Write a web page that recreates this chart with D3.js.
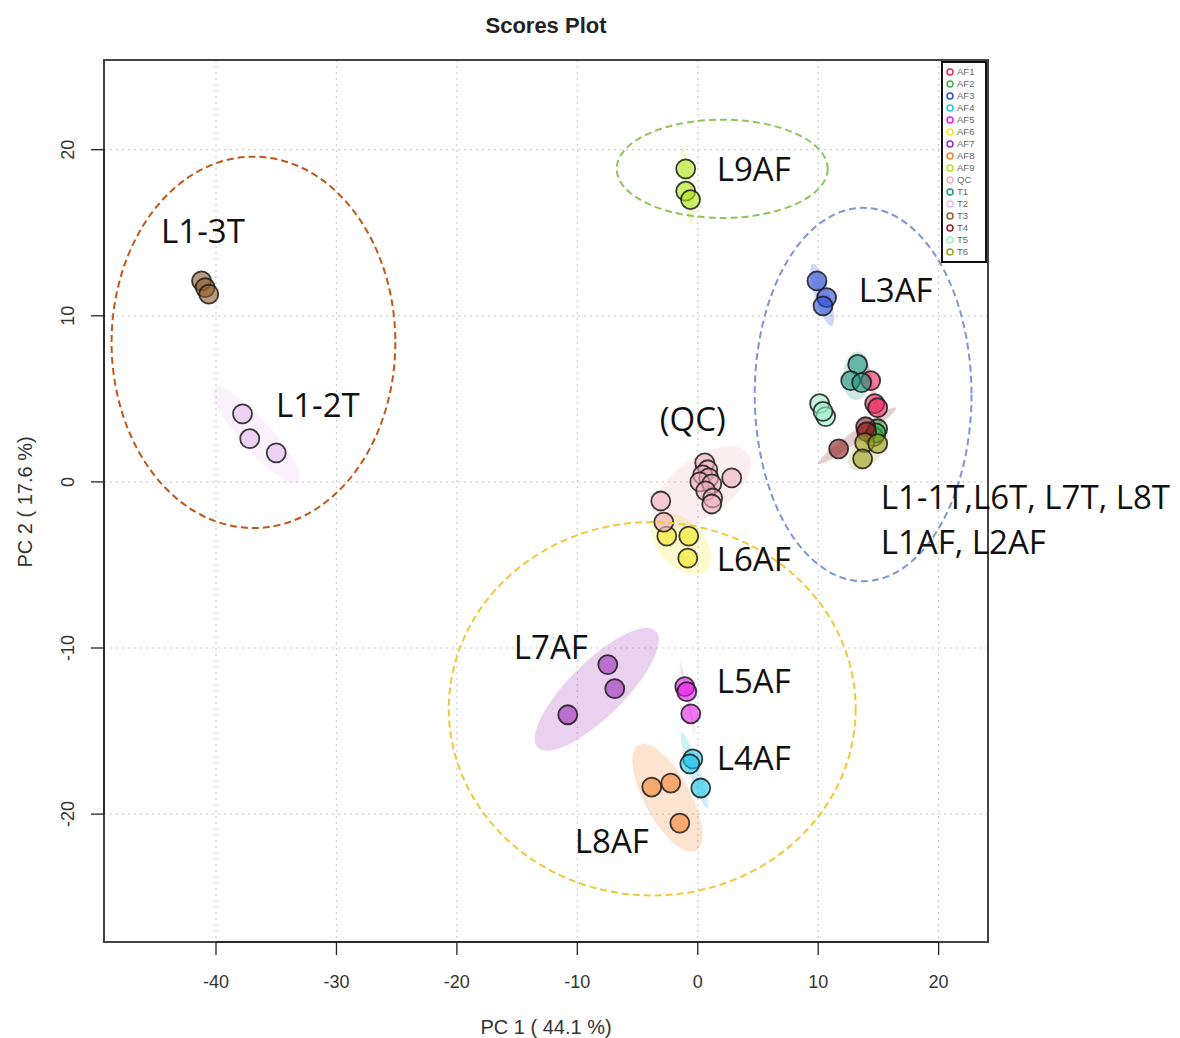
<!DOCTYPE html>
<html>
<head>
<meta charset="utf-8">
<script src="https://cdn.jsdelivr.net/npm/d3@7/dist/d3.min.js"></script>
<style>
body { margin: 0; background: #fff; }
</style>
</head>
<body>
<div id="chart"></div>
<script>
// groups in legend order
const groups = ["AF1", "AF2", "AF3", "AF4", "AF5", "AF6", "AF7", "AF8", "AF9",
    "QC", "T1", "T2", "T3", "T4", "T5", "T6"];
const palette = ["#e8245a", "#3cb44b", "#2d4fd6", "#22c4e6", "#e21ee6", "#f5e61e",
    "#9b2db4", "#f5822e", "#b4e61e", "#f0b0bc", "#1e9682", "#e6bef0",
    "#8c5a28", "#8c1e1e", "#9cf0c8", "#a0a01e"];

// PC1 / PC2 scores per group
const scoresAF1 = [[14.36, 6.10], [14.69, 4.71], [14.94, 4.47]];
const scoresAF2 = [[14.94, 3.20], [14.61, 2.72], [14.80, 2.95]];
const scoresAF3 = [[9.9, 12.1], [10.7, 11.1], [10.4, 10.6]];
const scoresAF4 = [[-0.41, -16.68], [-0.66, -16.98], [0.25, -18.43]];
const scoresAF5 = [[-1.08, -12.33], [-0.91, -12.63], [-0.58, -13.96]];
const scoresAF6 = [[-2.57, -3.26], [-0.75, -3.26], [-0.83, -4.59]];
const scoresAF7 = [[-7.47, -11.0], [-6.89, -12.45], [-10.79, -14.02]];
const scoresAF8 = [[-3.82, -18.37], [-2.24, -18.13], [-1.49, -20.54]];
const scoresAF9 = [[-1.0, 18.85], [-1.0, 17.5], [-0.6, 17.0]];
const scoresQC = [[0.58, 1.15], [0.83, 0.73], [0.41, 0.42], [0.91, 0.24], [0.17, 0.0],
    [1.16, -0.12], [2.82, 0.24], [0.66, -0.54], [1.24, -0.97], [1.16, -1.33],
    [-3.07, -1.15], [-2.82, -2.42]];
const scoresT1 = [[13.28, 7.07], [12.70, 6.10], [13.61, 5.98]];
const scoresT2 = [[-37.8, 4.1], [-37.2, 2.6], [-35.0, 1.75]];
const scoresT3 = [[-41.2, 12.1], [-40.9, 11.7], [-40.6, 11.3]];
const scoresT4 = [[13.94, 3.32], [14.02, 3.02], [11.70, 1.99]];
const scoresT5 = [[10.12, 4.71], [10.62, 3.93], [10.40, 4.25]];
const scoresT6 = [[13.86, 2.36], [14.94, 2.30], [13.69, 1.39]];

const allScores = [scoresAF1, scoresAF2, scoresAF3, scoresAF4, scoresAF5, scoresAF6,
    scoresAF7, scoresAF8, scoresAF9, scoresQC, scoresT1, scoresT2, scoresT3,
    scoresT4, scoresT5, scoresT6];

const xTicks = [-40, -30, -20, -10, 0, 10, 20];
const yTicks = [-20, -10, 0, 10, 20];

// hand-drawn annotation rings: centre x, centre y, radius x, radius y (data units)
const rings = [[-36.89, 8.40, 11.78, 11.18], [2.03, 18.85, 8.76, 2.96],
    [13.73, 5.26, 9.0, 11.24], [-3.78, -13.66, 16.89, 11.24]];
const ringColors = ["#c0581c", "#8fc45a", "#7d95d6", "#f0c838"];

// annotation text and its anchor (data units)
const labelText = ["L1-3T", "L1-2T", "L9AF", "L3AF", "(QC)", "L1-1T,L6T, L7T, L8T",
    "L1AF, L2AF", "L6AF", "L7AF", "L5AF", "L4AF", "L8AF"];
const labelPos = [[-44.56, 14.38], [-35.02, 3.93], [1.58, 18.13], [13.36, 10.82],
    [-3.15, 3.08], [15.19, -1.63], [15.19, -4.35], [1.58, -5.38], [-15.27, -10.69],
    [1.58, -12.69], [1.58, -17.34], [-10.21, -22.36]];

const W = 1180, H = 1038;
const pLeft = 104, pRight = 988, pTop = 60, pBottom = 942;

const x = d3.scaleLinear().domain([-49.3, 24.1]).range([pLeft, pRight]);
const y = d3.scaleLinear().domain([-27.7, 25.4]).range([pBottom, pTop]);

const svg = d3.select("#chart")
    .append("svg")
    .attr("width", W)
    .attr("height", H)
    .style("font-family", "'Liberation Sans', Arial, sans-serif");

svg.append("rect").attr("width", W).attr("height", H).attr("fill", "#fff");

// title
svg.append("text")
    .attr("x", 546)
    .attr("y", 33)
    .attr("text-anchor", "middle")
    .style("font-size", "22px")
    .style("font-weight", "bold")
    .attr("fill", "#222")
    .text("Scores Plot");

// grid
svg.selectAll(".vgrid")
    .data(xTicks)
    .enter().append("line")
    .attr("x1", d => x(d)).attr("x2", d => x(d))
    .attr("y1", pTop).attr("y2", pBottom)
    .attr("stroke", "#cfcfcf")
    .attr("stroke-width", 1.2)
    .attr("stroke-dasharray", "2,4");

svg.selectAll(".hgrid")
    .data(yTicks)
    .enter().append("line")
    .attr("x1", pLeft).attr("x2", pRight)
    .attr("y1", d => y(d)).attr("y2", d => y(d))
    .attr("stroke", "#cfcfcf")
    .attr("stroke-width", 1.2)
    .attr("stroke-dasharray", "2,4");

// 95% confidence ellipses from each group's covariance
const k = Math.sqrt(5.991);
const ellipseLine = d3.line().x(d => x(d[0])).y(d => y(d[1])).curve(d3.curveLinearClosed);

allScores.forEach((pts, gi) => {
    const mx = d3.mean(pts, p => p[0]);
    const my = d3.mean(pts, p => p[1]);
    const n = pts.length;
    const sxx = d3.sum(pts, p => (p[0] - mx) ** 2) / (n - 1);
    const syy = d3.sum(pts, p => (p[1] - my) ** 2) / (n - 1);
    const sxy = d3.sum(pts, p => (p[0] - mx) * (p[1] - my)) / (n - 1);
    const a = Math.sqrt(sxx);
    const b = sxy / a;
    const c = Math.sqrt(Math.max(syy - b * b, 1e-6));
    const poly = d3.range(0, 100).map(i => {
        const t = i / 100 * 2 * Math.PI;
        return [mx + k * a * Math.cos(t), my + k * (b * Math.cos(t) + c * Math.sin(t))];
    });
    svg.append("path")
        .attr("d", ellipseLine(poly))
        .attr("fill", palette[gi])
        .attr("fill-opacity", 0.22)
        .attr("stroke", "none");
});

// points
allScores.forEach((pts, gi) => {
    svg.selectAll(".pt-" + groups[gi])
        .data(pts)
        .enter().append("circle")
        .attr("cx", d => x(d[0]))
        .attr("cy", d => y(d[1]))
        .attr("r", 9.5)
        .attr("fill", palette[gi])
        .attr("fill-opacity", 0.6)
        .attr("stroke", "#1a1a1a")
        .attr("stroke-opacity", 0.85)
        .attr("stroke-width", 1.8);
});

// plot box
svg.append("rect")
    .attr("x", pLeft).attr("y", pTop)
    .attr("width", pRight - pLeft).attr("height", pBottom - pTop)
    .attr("fill", "none")
    .attr("stroke", "#444")
    .attr("stroke-width", 2);

// x axis (R style)
const xAxis = svg.append("g").attr("transform", `translate(0,${pBottom})`);
xAxis.append("line")
    .attr("x1", x(d3.min(xTicks))).attr("x2", x(d3.max(xTicks)))
    .attr("stroke", "#222").attr("stroke-width", 1.5);
xAxis.selectAll(".tick")
    .data(xTicks)
    .enter().append("line")
    .attr("x1", d => x(d)).attr("x2", d => x(d))
    .attr("y1", 0).attr("y2", 13)
    .attr("stroke", "#222").attr("stroke-width", 1.3);
xAxis.selectAll(".lab")
    .data(xTicks)
    .enter().append("text")
    .attr("x", d => x(d))
    .attr("y", 46)
    .attr("text-anchor", "middle")
    .style("font-size", "18px")
    .attr("fill", "#333")
    .text(d => d);

// y axis
const yAxis = svg.append("g").attr("transform", `translate(${pLeft},0)`);
yAxis.append("line")
    .attr("y1", y(d3.min(yTicks))).attr("y2", y(d3.max(yTicks)))
    .attr("stroke", "#222").attr("stroke-width", 1.5);
yAxis.selectAll(".tick")
    .data(yTicks)
    .enter().append("line")
    .attr("y1", d => y(d)).attr("y2", d => y(d))
    .attr("x1", 0).attr("x2", -13)
    .attr("stroke", "#222").attr("stroke-width", 1.3);
yAxis.selectAll(".lab")
    .data(yTicks)
    .enter().append("text")
    .attr("transform", d => `translate(-30,${y(d)}) rotate(-90)`)
    .attr("text-anchor", "middle")
    .style("font-size", "18px")
    .attr("fill", "#333")
    .text(d => d);

// axis titles
svg.append("text")
    .attr("x", 546)
    .attr("y", 1034)
    .attr("text-anchor", "middle")
    .style("font-size", "20px")
    .attr("fill", "#333")
    .text("PC 1 ( 44.1 %)");

svg.append("text")
    .attr("transform", "translate(32,502) rotate(-90)")
    .attr("text-anchor", "middle")
    .style("font-size", "20px")
    .attr("fill", "#333")
    .text("PC 2 ( 17.6 %)");

// legend
const legend = svg.append("g");
legend.append("rect")
    .attr("x", 942).attr("y", 62)
    .attr("width", 44).attr("height", 200)
    .attr("fill", "#fff")
    .attr("stroke", "#111")
    .attr("stroke-width", 2);
legend.selectAll(".lg-dot")
    .data(groups)
    .enter().append("circle")
    .attr("cx", 950)
    .attr("cy", (d, i) => 72 + i * 12)
    .attr("r", 3)
    .attr("fill", "none")
    .attr("stroke", (d, i) => palette[i])
    .attr("stroke-width", 1.5);
legend.selectAll(".lg-txt")
    .data(groups)
    .enter().append("text")
    .attr("x", 957)
    .attr("y", (d, i) => 75 + i * 12)
    .style("font-size", "9.5px")
    .attr("fill", "#666")
    .text(d => d);

// hand-drawn dashed rings
svg.selectAll(".ring")
    .data(rings)
    .enter().append("ellipse")
    .attr("cx", d => x(d[0]))
    .attr("cy", d => y(d[1]))
    .attr("rx", d => x(d[2]) - x(0))
    .attr("ry", d => y(0) - y(d[3]))
    .attr("fill", "none")
    .attr("stroke", (d, i) => ringColors[i])
    .attr("stroke-width", 2)
    .attr("stroke-dasharray", "7,4");

// annotation labels
svg.selectAll(".note")
    .data(labelText)
    .enter().append("text")
    .attr("x", (d, i) => x(labelPos[i][0]))
    .attr("y", (d, i) => y(labelPos[i][1]))
    .style("font-family", "'Open Sans', 'Noto Sans', sans-serif")
    .style("font-size", "33px")
    .attr("fill", "#111")
    .text(d => d);
</script>
</body>
</html>
